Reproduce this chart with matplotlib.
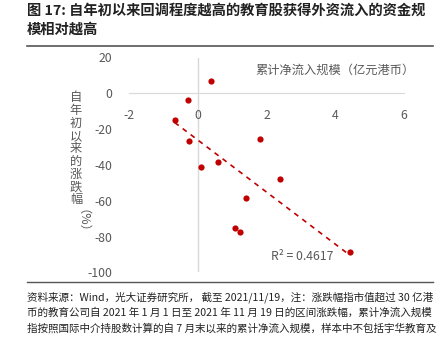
import numpy as np
import matplotlib
matplotlib.use('Agg')
import matplotlib.pyplot as plt

plt.rcParams['font.family'] = ['Noto Sans CJK SC', 'DejaVu Sans']

# datos
flujo = [0.39, -0.27, -0.67, -0.25, 0.08, 0.60, 1.40, 1.08, 1.23, 1.80, 2.39, 4.42]
cambio = [7.0, -3.6, -14.7, -26.6, -41.0, -38.5, -58.3, -75.3, -77.5, -25.4, -48.0, -88.5]

xticks = [-2, 0, 2, 4, 6]
yticks = [20, 0, -20, -40, -60, -80, -100]

titulo = ['图 17: 自年初以来回调程度越高的教育股获得外资流入的资金规', '模相对越高']
nota = ['资料来源：Wind，光大证券研究所， 截至 2021/11/19，注：涨跌幅指市值超过 30 亿港',
        '币的教育公司自 2021 年 1 月 1 日至 2021 年 11 月 19 日的区间涨跌幅，累计净流入规模',
        '指按照国际中介持股数计算的自 7 月末以来的累计净流入规模，样本中不包括宇华教育及',
        '中教控股']

rojo = '#c00000'
gris = '#595959'
linea = '#d9d9d9'

fig = plt.figure(figsize=(4.46, 3.38), dpi=100)
ax = fig.add_axes([129/446, 1 - 272.3/338, 275/446, (272.3 - 57.5)/338])

ax.set_xlim(-2, 6)
ax.set_ylim(-100, 20)

ax.scatter(flujo, cambio, s=20, color=rojo, zorder=3, linewidths=0)

# linea de tendencia
p = np.polyfit(flujo, cambio, 1)
xt = np.array([min(flujo), max(flujo)])
ax.plot(xt, np.polyval(p, xt), color=rojo, lw=1.2, ls=(0, (3, 3)), zorder=2)

ax.axvline(0, color=linea, lw=1, zorder=1)
for s in ['top', 'right', 'left']:
    ax.spines[s].set_visible(False)
ax.spines['bottom'].set_position(('data', 0))
ax.spines['bottom'].set_color(linea)

ax.set_xticks(xticks)
ax.set_xticklabels([str(v) for v in xticks])
ax.set_yticks(yticks)
ax.set_yticklabels([str(v) for v in yticks])
ax.tick_params(axis='x', length=0, pad=11, colors=gris, labelsize=8.8)
ax.tick_params(axis='y', length=0, pad=12, colors=gris, labelsize=8.8)

ax.text(4.0, 12.7, '累计净流入规模（亿元港币）', color=gris, fontsize=8.8,
        ha='center', va='center')
ax.text(3.05, -90.9, 'R² = 0.4617', color=gris, fontsize=8.8,
        ha='center', va='center')

# etiqueta vertical, un caracter por fila
for i, c in enumerate('自年初以来的涨跌幅'):
    fig.text(76/446, 1 - (98 + 12.75*i)/338, c, color=gris, fontsize=8.8,
             ha='center', va='center')
fig.text(76/446, 1 - 227/338, '（%）', color=gris, fontsize=8.8,
         ha='center', va='center', rotation=-90)

# titulo
fig.text(27/446, 1 - 11/338, titulo[0], fontsize=10.3, fontweight='bold',
         ha='left', va='center', color='#222222')
fig.text(27/446, 1 - 30/338, titulo[1], fontsize=10.3, fontweight='bold',
         ha='left', va='center', color='#222222')
fig.add_artist(plt.Line2D([27/446, 433/446], [1 - 46/338, 1 - 46/338],
                          color='#555555', lw=1.2))

# nota
fig.add_artist(plt.Line2D([27/446, 433/446], [1 - 282/338, 1 - 282/338],
                          color='#555555', lw=1.0))
for i, l in enumerate(nota):
    fig.text(27/446, 1 - (297 + 15.5*i)/338, l, fontsize=7.6, ha='left',
             va='center', color='#222222')

fig.savefig('out.png', dpi=100)
